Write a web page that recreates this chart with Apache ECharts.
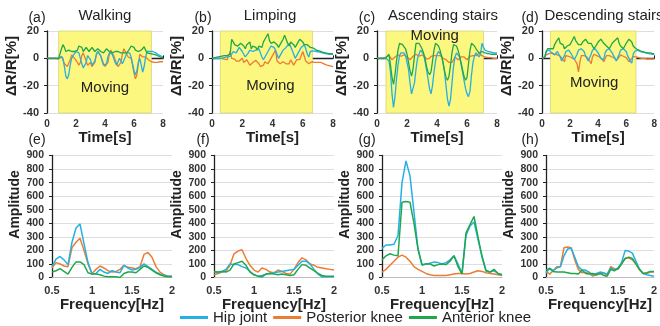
<!DOCTYPE html>
<html>
<head>
<meta charset="utf-8">
<script src="https://cdn.jsdelivr.net/npm/echarts@6/dist/echarts.min.js"></script>
<style>
  html, body { margin: 0; padding: 0; background: #fff; }
  #chart { width: 660px; height: 326px; }
</style>
</head>
<body>
<div id="chart"></div>
<script>
  // ---- data ----
  var seriesNames = ['Hip joint', 'Posterior knee', 'Anterior knee'];
  var colors = ['#25b0e4', '#ec7c33', '#1fa84b'];
  var panelTitles = ['Walking', 'Limping', 'Ascending stairs', 'Descending stairs'];
  var topLetters = ['(a)', '(b)', '(c)', '(d)'];
  var bottomLetters = ['(e)', '(f)', '(g)', '(h)'];
  var moveStart = [0.8, 0.55, 0.6, 0.6];
  var moveEnd = [7.2, 6.65, 7.1, 6.7];

  // time signals, one value every 0.1 s from 0 to 8 s
  var walkHip = [0,0,0,0,0,0,0,0,0,0.5,
    1.5,0,-6,-13,-15,-12,-5,0,2,3,
    5,6,4,0,-4,-7,-7,-3,2,3,
    -1,-5,-6,-2,3,5,5,2,-2,-5,
    -6,-4,1,4,5,3,0,-3,-5,-4,
    0,-2,-4,-3,1,4,5,4,1,-4,
    -9,-12,-9,-3,0,-5,-10,-6,1,5,
    6,5,5,5,4,4,3,2.5,2,1.5,1];
  var walkPost = [0,0,0,0,0,0,0,0,-0.5,-1,
    1,-1,-4,-3,-6,-5,-1,2.5,2,0,
    -1,-3,-5,-3,2,4,1,-2,-5,-4,
    -3,-6,-7,-3,2,5,5,2,-1,-4,
    -6,-7,-3,3,6,5,2,-1,-4,-6,
    -7,-3,3,7,6,3,1,2,0,-5,
    -11,-15,-12,-4,3,3,1,0,1,0,
    -1,-2,-2.5,-3,-3,-3,-3,-2.5,-2.5,-2.5,-2.5];
  var walkAnt = [0,0,0,0,0,0,0,0,0,0.5,
    7,10,8,5,5,6,5,5,6,5,
    5,6,9,10,8,5,6,8,7,5,
    6,8,7,5,6,7,6,5,4,4,
    5,7,6,5,5,4,5,5,4,5,
    4,4,5,4,3.5,4,5,7,9,9.5,
    8,6,5,5,5,6,7,8.5,6,4,
    3.5,3.5,3,3,3,2.5,2,1.5,1,0.5,0.5];

  var limpHip = [0,0,0,0,0,0,0,0,0.5,1,
    1,1,1.5,3,5,5,4,6,8,7,
    5,3,1,1,4,6,5,5,4,6,
    7,7,4,1,-1,-1,3,5,7,9,
    10,8,6,3,0,0,4,6,7,8,
    9,11,10,6,3,0,0,4,6,8,
    9,10,7,3,1,5,6,5.5,5.5,5,
    5,4.5,4.5,4,4,3.5,3.5,3,3,3,3];
  var limpPost = [0,0,0,0,0,0,0,0,-0.5,-1,
    -1,2,5,0,-1,-0.5,-2,-3,-2,-1,
    0,-3,-4,-1,-2,-5,-6,-3,-2,-1.5,
    -2,-4,-6,-7,-5,-2.5,-3,-4,-2,0,
    2,4,6,-2,-3,-4,-3,-2.5,-3,-4,
    -5,-4,-1,-2,-5,-4,-1,-2,-1,2,
    5,6,-2,-3,-4,-3,-2.5,-2.5,-3,-4,
    -3,-3.5,-3,-3.5,-4,-4.5,-5,-5,-5.5,-6,-6];
  var limpAnt = [0,0,0.5,0.5,1,1,1.5,1.5,2,2,
    2,2.5,3,14,12,10,11,9,10,11,
    12,9,7,10,11,12,7,9,10,8,
    6,9,10,8,12,14,15,18,13,11,
    11,12,11,10,8,9,12,14,17,14,
    11,9,12,13,10,8,9,12,14,15,
    12,10,9,10,9,8,7,7.5,7,6,
    6,5.5,5,4.5,4,4,3.5,3.5,3.5,3.5,3.5];

  var ascHip = [0,0,0,0,0,0,0,0,-2,-10,
    -26,-36,-28,-15,-5,2,4,5,4,2,
    -3,-8,-18,-26,-27,-18,-8,0,3,6,
    5,3,-2,-8,-15,-22,-26,-20,-10,-2,
    3,5,4,2,-3,-10,-20,-30,-35,-30,
    -18,-6,1,4,3,1,-4,-10,-16,-22,
    -26,-28,-24,-12,-3,2,4,3,1,3,
    11,8,6,5,5,4.5,4.5,4.5,4,4,4];
  var ascPost = [0,0,0,0,0,0.5,1,1.5,2,1,
    -1,0,1,2,2.5,2,1.5,2,2.5,2,
    1,0,-1,0,1.5,2.5,3,2,1.5,2,
    2.5,2,1,-0.5,-1,0,1.5,2.5,2,1.5,
    2,2.5,2,1,0,0,-1,-2,-3,-4,
    -3,-1,1,0,-1,0,1,1.5,1,0,
    -1,0,1.5,2.5,2,1.5,2,3,3.5,3,
    2,1.5,1,1,0.5,0.5,0.5,0,0,0,0];
  var ascAnt = [0,0,0,0,0,0.5,0.5,1,3,-5,
    -14,-19,-12,-2,6,11,12,10,9,7,
    3,-3,-9,-13,-8,2,11,11,11,9,
    7,4,0,-6,-10,-12,-10,-2,6,11,
    10,9,6,2,-3,-9,-14,-16,-13,-5,
    4,10,10,9,6,2,-3,-8,-13,-16,
    -14,-4,6,11,10,9,7,6,4,3,
    5,5,4,3.5,3.5,3,3,3,3,3,3];

  var descHip = [0,0,1,5,6,6,5,4,3,2.5,
    3,5,4,1,-2,-2.5,2,5,6,6,
    5,3,1,-1,-1,3,6,7,7,7,
    5,2,0,-2,-2.5,3,6,7,7,6,
    4,2,0,-1,-1,4,6,7,7,6,
    4,2,0,-2,-2.5,3,6,7,7,6,
    5,2,0,-2,-3.5,3,5,6,6,5.5,
    5,5,4.5,4.5,4,4,3.5,3.5,3,3,3];
  var descPost = [0,0,1,2.5,3.5,3.5,4,4,3.5,3,
    2.5,2.5,2,1.5,1,-1,-2.5,2,2,1.5,
    1,0.5,0,-0.5,-1,-4,-10,-3,2,3,
    2,1.5,1,0,-2,-4,1,3,2.5,2,
    1.5,1,0,-1,-2.5,-3,2,3,2,1.5,
    1,0.5,0,-1.5,-2.5,1,2.5,2,1.5,1,
    0.5,-1,-2.5,-3.5,0,1.5,1.5,1,0.5,0.5,
    0,0,0,0,-0.5,-0.5,-0.5,-0.5,-0.5,-0.5,-0.5];
  var descAnt = [0,0,1,5,7,7,7,6,7,10,
    12,13,15,11,12,10,7,8,9,8,
    10,12,14,16,13,12,10,9,10,12,
    13,14,15,11,10,11,9,7,8,10,
    12,13,14,15,11,10,9,8,7,9,
    11,12,13,14,15,11,9,8,7,9,
    11,12,14,15,12,9,8,7,6,6,
    5.5,5,5,4.5,4.5,4,4,4,3.5,3.5,3.5];

  // spectra, 0.5 - 2.0 Hz
  var freq = [0.5,0.55,0.6,0.65,0.7,0.75,0.8,0.85,0.9,0.95,
    1.0,1.05,1.1,1.15,1.2,1.25,1.3,1.35,1.4,1.45,
    1.5,1.55,1.6,1.65,1.7,1.75,1.8,1.85,1.9,1.95,2.0];
  var walkHipAmp = [80,135,155,130,95,260,365,395,250,110,25,30,60,40,30,50,40,35,90,70,55,60,75,100,80,60,40,25,15,10,10];
  var walkPostAmp = [70,110,100,85,80,220,260,290,200,100,30,60,85,70,50,40,45,60,90,75,70,65,80,170,185,150,80,40,20,10,10];
  var walkAntAmp = [40,50,65,45,25,75,115,115,95,35,25,25,20,10,5,5,5,0,30,40,40,35,60,85,75,55,35,20,10,5,5];
  var limpHipAmp = [40,35,45,60,100,95,95,80,70,45,20,10,15,25,30,35,40,45,50,55,60,90,120,120,100,60,25,5,5,5,5];
  var limpPostAmp = [20,30,40,50,90,175,195,205,140,90,55,40,70,60,40,35,55,45,30,25,60,110,145,130,100,90,75,70,65,60,55];
  var limpAntAmp = [45,40,45,40,55,100,110,120,90,40,20,10,5,25,30,25,20,25,20,15,20,60,95,90,70,50,30,15,10,10,10];
  var ascHipAmp = [215,240,240,245,310,700,860,750,480,210,90,100,105,115,110,100,110,130,160,100,30,310,380,410,280,160,50,40,50,30,20];
  var ascPostAmp = [40,60,90,120,150,165,150,120,80,60,45,30,20,15,15,15,15,20,25,30,30,25,30,40,50,45,35,30,25,20,15];
  var ascAntAmp = [130,160,175,165,160,555,560,555,400,210,95,100,100,85,95,100,95,120,160,80,25,330,390,450,300,150,50,40,60,30,20];
  var descHipAmp = [30,70,50,70,80,160,210,215,150,80,55,55,40,20,30,40,35,25,70,55,70,110,200,195,180,120,60,30,20,15,10];
  var descPostAmp = [45,25,50,80,80,220,225,220,130,60,35,40,30,10,20,30,30,20,80,65,60,100,140,145,130,100,55,30,30,40,40];
  var descAntAmp = [55,65,45,40,40,40,35,30,30,25,55,30,25,30,20,30,15,10,60,50,65,100,140,150,140,100,60,30,35,45,45];

  var timeSets = [[walkHip, walkPost, walkAnt], [limpHip, limpPost, limpAnt],
                  [ascHip, ascPost, ascAnt], [descHip, descPost, descAnt]];
  var ampSets = [[walkHipAmp, walkPostAmp, walkAntAmp], [limpHipAmp, limpPostAmp, limpAntAmp],
                 [ascHipAmp, ascPostAmp, ascAntAmp], [descHipAmp, descPostAmp, descAntAmp]];

  // ---- layout ----
  var FONT = "'Liberation Sans', Arial, sans-serif";
  var topLeft = [47, 212, 377, 542];
  var topWidth = [116, 121, 120, 120];
  var botLeft = [52, 214, 382, 546];
  var botWidth = [120, 120, 120, 116];
  var movingOffset = [[0, 16], [4, 14], [0, -36], [1, 11]];
  var titleX = [105, 270, 443, 604];
  var letterX = [37, 203, 367, 530];

  var grids = [], xAxes = [], yAxes = [], series = [], graphics = [];

  for (var p = 0; p < 4; p++) {
    var t = 2 * p;      // top grid / axis index
    var g = 2 * p + 1;  // bottom grid / axis index

    // top row
    grids.push({left: topLeft[p], width: topWidth[p], top: 31, height: 82});
    xAxes.push({
      type: 'value', gridIndex: t, min: 0, max: 8, interval: 2,
      name: 'Time[s]', nameLocation: 'middle', nameGap: 13,
      nameTextStyle: {fontSize: 15, fontWeight: 'bold', color: '#222', fontFamily: FONT},
      axisLine: {lineStyle: {color: '#222', width: 1.3}},
      axisTick: {show: true, inside: true, length: 3, lineStyle: {color: '#222'}},
      axisLabel: {fontSize: 10, fontWeight: 'bold', color: '#333', margin: 6, fontFamily: FONT},
      splitLine: {show: false}
    });
    yAxes.push({
      type: 'value', gridIndex: t, min: -40, max: 20, interval: 20,
      name: 'ΔR/R[%]', nameLocation: 'middle', nameGap: 27,
      nameTextStyle: {fontSize: 15, fontWeight: 'bold', color: '#222', fontFamily: FONT,
                      padding: [0, 0, 0, 12]},
      axisLine: {show: true, lineStyle: {color: '#222', width: 1.3}},
      axisTick: {show: true, length: 3, lineStyle: {color: '#222'}},
      axisLabel: {fontSize: 11, fontWeight: 'bold', color: '#333', margin: 8, fontFamily: FONT},
      splitLine: {show: true, lineStyle: {color: '#dedede', width: 1}}
    });

    // bottom row
    grids.push({left: botLeft[p], width: botWidth[p], top: 155.5, height: 122});
    xAxes.push({
      type: 'value', gridIndex: g, min: 0.5, max: 2, interval: 0.5,
      name: 'Frequency[Hz]', nameLocation: 'middle', nameGap: 16,
      nameTextStyle: {fontSize: 15, fontWeight: 'bold', color: '#222', fontFamily: FONT},
      axisLine: {lineStyle: {color: '#bdbdbd', width: 1}},
      axisTick: {show: false},
      axisLabel: {fontSize: 11, fontWeight: 'bold', color: '#333', margin: 8, fontFamily: FONT},
      splitLine: {show: false}
    });
    yAxes.push({
      type: 'value', gridIndex: g, min: 0, max: 900, interval: 100,
      name: 'Amplitude', nameLocation: 'middle', nameGap: 30,
      nameTextStyle: {fontSize: 14, fontWeight: 'bold', color: '#222', fontFamily: FONT,
                      padding: [0, 0, 0, 24]},
      axisLine: {show: true, lineStyle: {color: '#222', width: 1.3}},
      axisTick: {show: true, length: 3, lineStyle: {color: '#222'}},
      axisLabel: {fontSize: 10.5, fontWeight: 'bold', color: '#333', margin: 8, fontFamily: FONT},
      splitLine: {show: true, lineStyle: {color: '#dedede', width: 1}}
    });

    // draw order: posterior, hip, anterior
    [1, 0, 2].forEach(function (k, idx) {
      var s = {
        name: seriesNames[k], type: 'line', xAxisIndex: t, yAxisIndex: t,
        showSymbol: false, symbol: 'none', animation: false,
        lineStyle: {width: 1.3, color: colors[k]}, itemStyle: {color: colors[k]},
        data: timeSets[p][k].map(function (v, i) { return [i / 10, v]; })
      };
      if (idx === 0) {
        s.markArea = {
          silent: true,
          itemStyle: {color: '#fbf77f', borderColor: '#d9d27a', borderWidth: 0.8},
          label: {show: true, position: 'inside', offset: movingOffset[p],
                  fontSize: 15, color: '#222', fontFamily: FONT},
          data: [[{name: 'Moving', xAxis: moveStart[p], yAxis: 20}, {xAxis: moveEnd[p], yAxis: -40}]]
        };
      }
      series.push(s);
    });
    [1, 0, 2].forEach(function (k) {
      series.push({
        name: seriesNames[k], type: 'line', xAxisIndex: g, yAxisIndex: g,
        showSymbol: false, symbol: 'none', animation: false,
        lineStyle: {width: 1.5, color: colors[k]}, itemStyle: {color: colors[k]},
        data: ampSets[p][k].map(function (v, i) { return [freq[i], v]; })
      });
    });

    graphics.push({type: 'text', x: letterX[p], y: 18,
      style: {text: topLetters[p], font: '14px ' + FONT, fill: '#222', align: 'center', verticalAlign: 'middle'}});
    graphics.push({type: 'text', x: titleX[p], y: 16,
      style: {text: panelTitles[p], font: '15px ' + FONT, fill: '#222', align: 'center', verticalAlign: 'middle'}});
    graphics.push({type: 'text', x: letterX[p], y: 140,
      style: {text: bottomLetters[p], font: '14px ' + FONT, fill: '#222', align: 'center', verticalAlign: 'middle'}});
  }

  var myChart = echarts.init(document.getElementById('chart'));
  myChart.setOption({
    animation: false,
    backgroundColor: '#fff',
    grid: grids,
    xAxis: xAxes,
    yAxis: yAxes,
    legend: {
      data: seriesNames, left: 175, top: 305, icon: 'rect',
      itemWidth: 28, itemHeight: 3, itemGap: 6,
      textStyle: {fontSize: 15, color: '#222', fontFamily: FONT}
    },
    graphic: graphics,
    series: series
  });
</script>
</body>
</html>
